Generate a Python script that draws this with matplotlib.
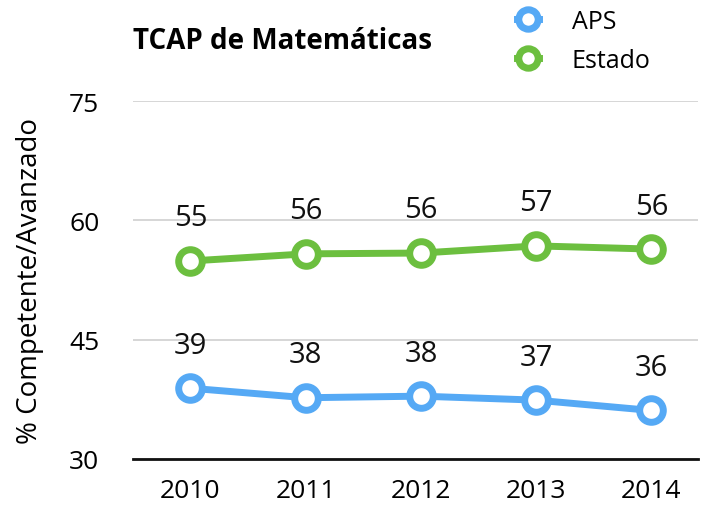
import matplotlib.pyplot as plt
from matplotlib.lines import Line2D

years = ["2010", "2011", "2012", "2013", "2014"]
aps = [38.9, 37.7, 37.9, 37.4, 36.1]
estado = [54.9, 55.8, 55.9, 56.8, 56.4]
aps_labels = ["39", "38", "38", "37", "36"]
estado_labels = ["55", "56", "56", "57", "56"]

blue = "#55a9f5"
green = "#6cbf3f"

plt.rcParams["font.family"] = ["Open Sans", "DejaVu Sans"]

fig = plt.figure(figsize=(7.06, 5.06), dpi=100)
ax = fig.add_axes([0.188, 0.091, 0.80, 0.707])

x = list(range(len(years)))
for vals, labels, color in [(estado, estado_labels, green), (aps, aps_labels, blue)]:
    ax.plot(x, vals, color=color, linewidth=5, marker="o", markersize=17,
            markerfacecolor="white", markeredgecolor=color, markeredgewidth=5,
            zorder=3, clip_on=False)
    for xi, v, lab in zip(x, vals, labels):
        ax.annotate(lab, xy=(xi, v), xytext=(0, 31), textcoords="offset points",
                    ha="center", va="center", fontsize=21, color="#111111")

ax.set_ylim(30, 75)
ax.set_yticks([30, 45, 60, 75])
ax.set_xlim(-0.5, 4.4)
ax.set_xticks(x)
ax.set_xticklabels(years)
ax.tick_params(length=0, labelsize=19, pad=14)
ax.tick_params(axis="y", pad=24)
ax.grid(axis="y", color="#d0d0d0", linewidth=1.2)
ax.set_axisbelow(True)
for s in ["top", "right", "left"]:
    ax.spines[s].set_visible(False)
ax.spines["bottom"].set_color("#111111")
ax.spines["bottom"].set_linewidth(2)
ax.set_ylabel("% Competente/Avanzado", fontsize=20, labelpad=18)

fig.text(0.188, 0.918, "TCAP de Matemáticas", fontsize=20, fontweight="bold",
         ha="left", va="center")

handles = [
    Line2D([], [], color=blue, linewidth=5, marker="o", markersize=14,
           markerfacecolor="white", markeredgecolor=blue, markeredgewidth=5),
    Line2D([], [], color=green, linewidth=5, marker="o", markersize=14,
           markerfacecolor="white", markeredgecolor=green, markeredgewidth=5),
]
fig.legend(handles, ["APS", "Estado"], loc="upper left", bbox_to_anchor=(0.70, 1.025),
           frameon=False, fontsize=18, handlelength=0.9, handletextpad=1.3,
           labelspacing=0.55)

fig.savefig("out.png", dpi=100)
